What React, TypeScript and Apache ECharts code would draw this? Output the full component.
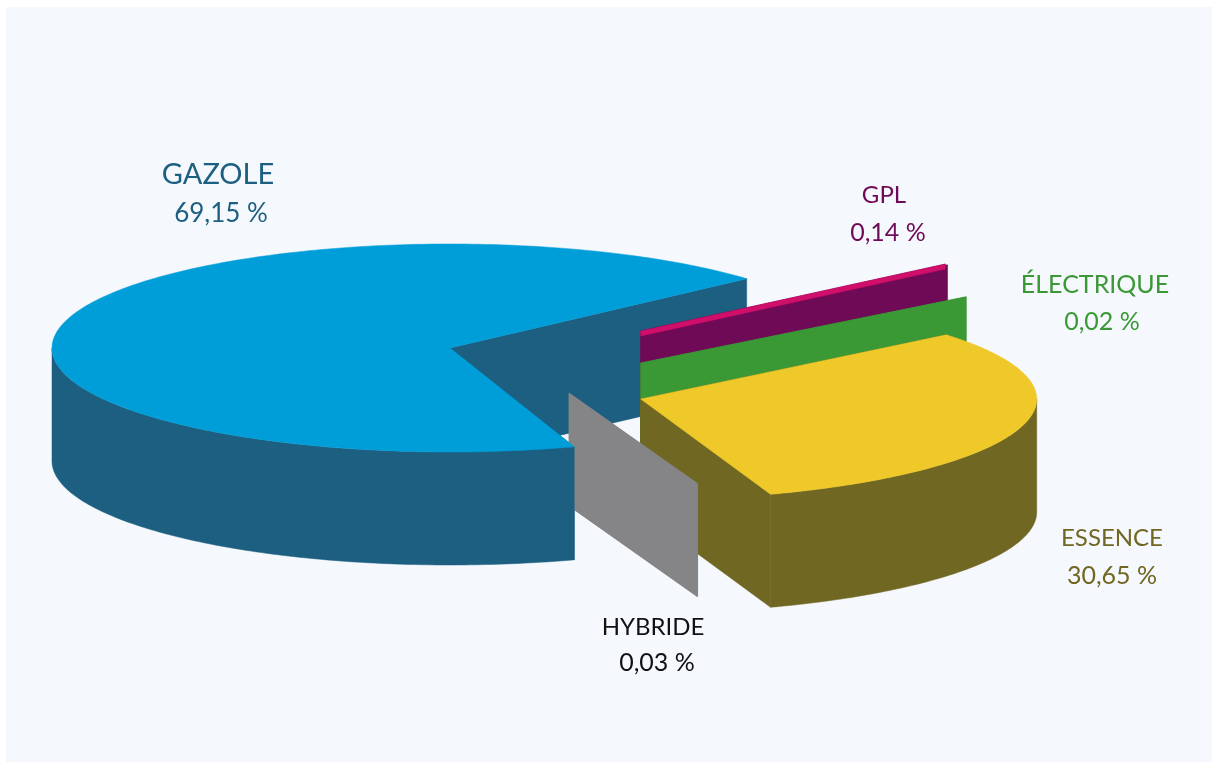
import React, { useEffect, useRef } from "react";
import * as echarts from "echarts";

// Data
const NAMES = ["GAZOLE", "HYBRIDE", "ESSENCE", "ÉLECTRIQUE", "GPL"];
const VALUES = [69.15, 0.03, 30.65, 0.02, 0.14];

// Colours
const TOP_COLORS = ["#009ed9", "#858587", "#efc92a", "#3a9935", "#cf0f6a"];
const WALL_COLORS = ["#1c5f80", "#858587", "#706722", "#3a9935", "#6f0a57"];
const TEXT_COLORS = ["#1c5f80", "#111111", "#706722", "#3a9935", "#6f0a57"];

// Layout of the exploded pie (pixels / degrees)
const START_ANGLE = 40.1;
const RX = 398;
const RY = 104;
const DEPTH = 113;
const APEX_X = [450, 569, 640.7, 640.7, 640.7];
const APEX_Y = [348, 393, 399, 363, 331];
const SCALE_X = [1, 0.985, 0.995, 1.06, 1];
const SCALE_Y = [1, 0.92, 0.97, 1, 1];
const START_TRIM = [1.7, 0, 0, 0, 0];
const END_TRIM = [0.85, 0, 0, 0, 0];
const EDGE_THICKNESS = [0, 0, 0, 0, 5];
// Painter order: walls, then rim + top
const WALL_Z = [1, 6, 4, 3, 2];
const FACE_Z = [8, 7, 5, 3, 2];

// Label layout
const NAME_X = [218, 653, 1112, 1095, 884];
const NAME_Y = [172, 625, 536, 283, 193];
const VALUE_X = [221, 657, 1112, 1102, 888];
const VALUE_Y = [212, 661, 574, 320, 231];
const NAME_SIZE = [29, 24, 24, 25, 24];
const VALUE_SIZE = [26, 25, 25, 25, 25];

const FONT = "Lato";
const D2R = Math.PI / 180;

function formatValue(v: number) {
  return v.toFixed(2).replace(".", ",") + " %";
}

function renderSlice(params: any, api: any) {
  const i = params.dataIndex;
  const value = api.value(0);
  let cumulative = 0;
  for (let k = 0; k < i; k++) cumulative += VALUES[k];
  const t0 = START_ANGLE + cumulative * 3.6 + START_TRIM[i];
  const t1 = START_ANGLE + (cumulative + value) * 3.6 - END_TRIM[i];
  const ax = APEX_X[i];
  const ay = APEX_Y[i];
  const rim = (t: number): [number, number] => [
    ax + RX * SCALE_X[i] * Math.cos(t * D2R),
    ay - RY * SCALE_Y[i] * Math.sin(t * D2R),
  ];
  const down = (p: [number, number], d: number): [number, number] => [p[0], p[1] + d];
  const apex: [number, number] = [ax, ay];
  const children: any[] = [];
  const poly = (points: number[][], fill: string, z2: number) => ({
    type: "polygon",
    shape: { points },
    style: { fill, stroke: fill, lineWidth: 0.5 },
    z2,
  });

  // Straight inner walls
  for (const t of [t0, t1]) {
    const p = rim(t);
    children.push(poly([apex, p, down(p, DEPTH), down(apex, DEPTH)], WALL_COLORS[i], WALL_Z[i]));
  }

  // Outer rim: only the arcs that face the viewer
  for (const [lo, hi] of [[180, 360], [540, 720]]) {
    const a = Math.max(t0, lo);
    const b = Math.min(t1, hi);
    if (b > a) {
      const upper: number[][] = [];
      for (let t = a; t < b; t += 1) upper.push(rim(t));
      upper.push(rim(b));
      const lower = upper.map((p) => [p[0], p[1] + DEPTH]).reverse();
      children.push(poly(upper.concat(lower), WALL_COLORS[i], FACE_Z[i]));
    }
  }

  // Top face
  const thick = EDGE_THICKNESS[i];
  if (thick > 0) {
    const p = rim(t1);
    children.push(poly([apex, p, down(p, thick), down(apex, thick)], TOP_COLORS[i], FACE_Z[i]));
  } else if (t1 - t0 > 1) {
    const top: number[][] = [apex];
    for (let t = t0; t < t1; t += 1) top.push(rim(t));
    top.push(rim(t1));
    children.push(poly(top, TOP_COLORS[i], FACE_Z[i] + 0.5));
  }

  // Labels
  children.push({
    type: "text",
    z2: 20,
    style: {
      text: NAMES[i],
      x: NAME_X[i],
      y: NAME_Y[i],
      fill: TEXT_COLORS[i],
      fontFamily: FONT,
      fontSize: NAME_SIZE[i],
      align: "center",
      verticalAlign: "middle",
    },
  });
  children.push({
    type: "text",
    z2: 20,
    style: {
      text: formatValue(value),
      x: VALUE_X[i],
      y: VALUE_Y[i],
      fill: TEXT_COLORS[i],
      fontFamily: FONT,
      fontSize: VALUE_SIZE[i],
      align: "center",
      verticalAlign: "middle",
    },
  });
  return { type: "group", children };
}

export default function App() {
  const ref = useRef<HTMLDivElement>(null);
  useEffect(() => {
    document.body.style.margin = "0";
    document.body.style.background = "#ffffff";
    const chart = echarts.init(ref.current!, undefined, { renderer: "svg" });
    chart.setOption({
      animation: false,
      backgroundColor: "#ffffff",
      graphic: [
        {
          type: "rect",
          silent: true,
          shape: { x: 6, y: 7, width: 1206, height: 755 },
          style: { fill: "#f5f8fd" },
        },
      ],
      series: [
        {
          type: "custom",
          coordinateSystem: "none",
          silent: true,
          renderItem: renderSlice,
          data: VALUES.map((v, i) => ({ name: NAMES[i], value: [v] })),
        },
      ],
    });
    return () => chart.dispose();
  }, []);
  return <div ref={ref} style={{ width: 1212, height: 762, filter: "blur(0.5px)" }} />;
}
